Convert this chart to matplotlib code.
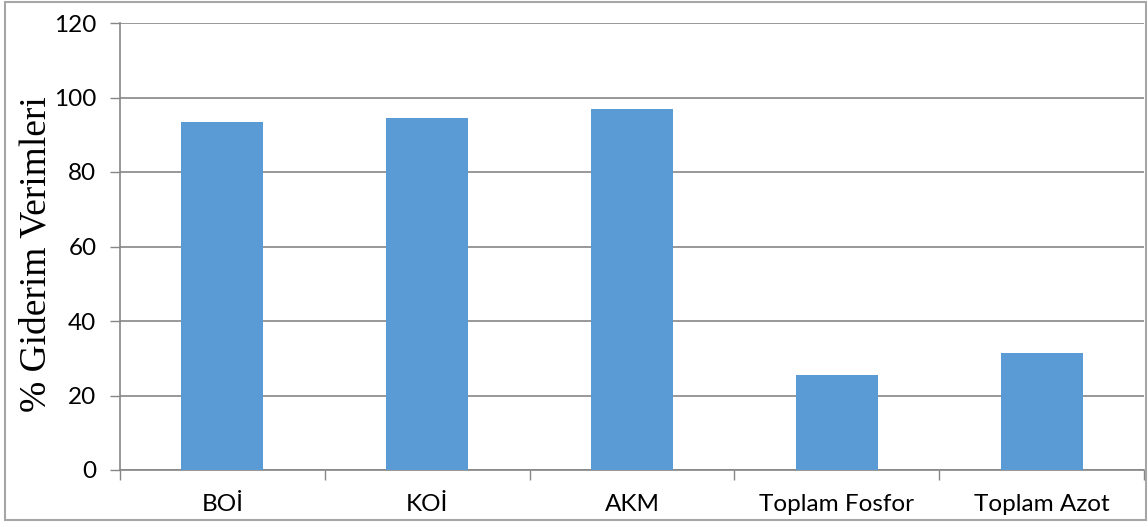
import numpy as np
import matplotlib.pyplot as plt
from matplotlib.patches import Rectangle

# Removal efficiencies per parameter
categories = ['BOİ', 'KOİ', 'AKM', 'Toplam Fosfor', 'Toplam Azot']
efficiency = [93.5, 94.6, 96.8, 25.5, 31.3]
yticks = [0, 20, 40, 60, 80, 100, 120]

bar_color = '#5B9BD5'
grid_color = '#868686'

fig = plt.figure(figsize=(11.48, 5.27), dpi=100)
ax = fig.add_axes([120 / 1148, 1 - 470 / 527, 1024 / 1148, 447 / 527])

x = np.arange(len(categories))
ax.bar(x, efficiency, width=0.4, color=bar_color, zorder=3)

ax.set_xlim(-0.5, len(categories) - 0.5)
ax.set_ylim(0, 120)
ax.set_yticks(yticks)
ax.set_yticklabels([str(v) for v in yticks], fontsize=17.5, family='Lato')

# category labels centred, tick marks on the boundaries
ax.set_xticks(x)
ax.set_xticklabels(categories, fontsize=17.5, family='Lato')
ax.tick_params(axis='x', which='major', length=0, pad=17)
ax.set_xticks(np.arange(-0.5, len(categories)), minor=True)
ax.tick_params(axis='x', which='minor', length=7, color=grid_color, width=1)
ax.tick_params(axis='y', length=7, color=grid_color, width=1, pad=10)

ax.grid(axis='y', color=grid_color, linewidth=1.2, zorder=0)
for side in ['top', 'right']:
    ax.spines[side].set_visible(False)
for side in ['left', 'bottom']:
    ax.spines[side].set_color(grid_color)
    ax.spines[side].set_linewidth(1.2)

fig.text(36 / 1148, 1 - 254 / 527, '% Giderim Verimleri', rotation=90,
         ha='center', va='center', family='Liberation Serif', fontsize=27)

# outer chart border
fig.patches.append(Rectangle((5 / 1148, 7 / 527), 1141 / 1148, 518 / 527,
                             transform=fig.transFigure, fill=False,
                             edgecolor='#A6A6A6', linewidth=1.5))

fig.savefig('out.png', dpi=100)
